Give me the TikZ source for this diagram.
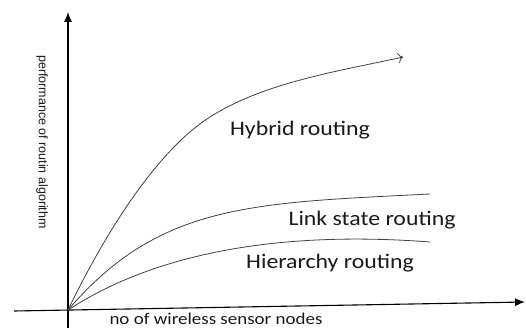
\documentclass[tikz,border=0pt]{standalone}
\usepackage{fontspec}
\newfontfamily\lblfont[FakeStretch=1.15]{Carlito}
\newfontfamily\axfont{Liberation Sans}
\usetikzlibrary{arrows.meta,calc,positioning}

\begin{document}
\begin{tikzpicture}[x=1pt,y=-1pt,
    axis/.style={line width=1.1pt, -{Latex[length=10pt,width=8pt]}},
    curve/.style={line width=0.8pt, black!75},
    lbl/.style={font=\lblfont\fontsize{20.7}{22}\selectfont, text=black!90}]
\useasboundingbox (0,0) rectangle (526,328);
%% axes
\coordinate (O) at (68,310);
\coordinate (ybot) at (68,328);
\coordinate (ytop) at (68,12);
\coordinate (xleft) at (14,311);
\coordinate (xright) at (525,302);
\draw[axis] (ybot) -- (ytop);
\draw[axis] (xleft) -- (xright);
\node[font=\lblfont\fontsize{16.5}{18}\selectfont, text=black!90] (xlab) at (216,319) {no of wireless sensor nodes};
\node[rotate=-90, font=\axfont\fontsize{12.5}{14}\selectfont, text=black!90] (ylab) at (42,142) {performance of routin algorithm};
%% the three curves
\coordinate (hybend) at (403,57);
\coordinate (linkend) at (430,194);
\coordinate (hierend) at (430,242);
\draw[curve, -{To[length=5pt]}] (O) .. controls (107,229) and (159,149) .. (210,117)
    .. controls (265,82) and (340,71) .. (hybend);
\draw[curve] (O) .. controls (159,204) and (250,203) .. (linkend);
\draw[curve] (O) .. controls (166,246) and (300,232) .. (hierend);
%% labels
\node[lbl] (hybrid) at (300,130) {Hybrid routing};
\node[lbl] (link) at (372,220) {Link state routing};
\node[lbl] (hier) at (330,263) {Hierarchy routing};
\end{tikzpicture}
\end{document}
